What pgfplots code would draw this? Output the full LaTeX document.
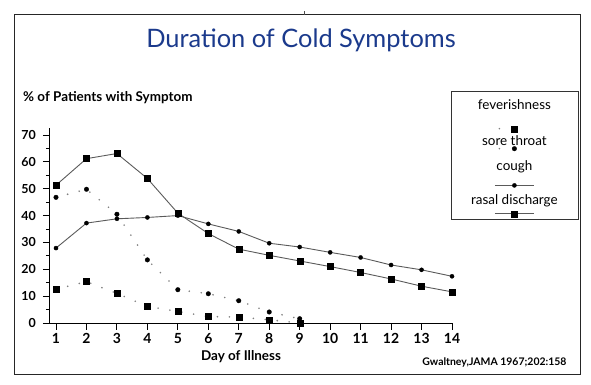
\documentclass[border=0pt]{standalone}
\usepackage{fontspec}
\setmainfont{Lato}
\usepackage{pgfplots}
\pgfplotsset{compat=1.18}
\definecolor{titleblue}{HTML}{1B3A8C}
\definecolor{linegray}{HTML}{5A5A5A}
\definecolor{dotgray}{HTML}{808080}
\newcommand{\legfont}{\fontsize{13.5}{16}\selectfont}
\tikzset{
  dotline/.style={dotgray, line width=1.8bp, line cap=round},
  solline/.style={linegray, line width=0.9bp},
  sqmark/.style={mark=square*, mark size=3bp, mark options={solid, draw=black, fill=black, line width=0.3bp}},
  cimark/.style={mark=*, mark size=2.3bp, mark options={solid, draw=black, fill=black, line width=0.3bp}},
  cimarks/.style={mark=*, mark size=2.1bp, mark options={solid, draw=black, fill=black, line width=0.3bp}},
}
\begin{document}
\begin{tikzpicture}[x=1bp,y=1bp]
\path (0,0) rectangle (591,384);
\draw[line width=1bp, black!85] (14,10) rectangle (580,369);
\draw[line width=0.8bp, black!70] (304,369) -- (304,373);
\node[font=\fontsize{25.5}{29}\selectfont, text=titleblue, anchor=base, inner sep=0pt] at (301,337) {Duration of Cold Symptoms};
\node[font=\bfseries\fontsize{13.5}{15}\selectfont, anchor=base west, inner sep=0pt] at (23,282.3) {\% of Patients with Symptom};
\node[font=\bfseries\fontsize{13.5}{16}\selectfont, anchor=base, inner sep=0pt] at (241,24) {Day of Illness};
\node[font=\bfseries\fontsize{10.5}{12}\selectfont, anchor=base east, inner sep=0pt] at (566.7,19) {Gwaltney,JAMA 1967;202:158};
\begin{axis}[
  scale only axis, width=402.7bp, height=194.7bp,
  at={(49.3bp,61bp)}, anchor=south west,
  xmin=0.78, xmax=14, ymin=0, ymax=72.5,
  axis lines=left, axis line style={-, line width=1bp, black},
  xtick={1,...,14}, ytick={0,10,...,70}, minor ytick={5,15,...,65},
  tick align=outside, major tick length=6.5bp, minor tick length=3.5bp,
  tick style={black, line width=1bp},
  /pgf/number format/assume math mode=true,
  xticklabel={\textbf{\pgfmathprintnumber{\tick}}},
  yticklabel={\textbf{\pgfmathprintnumber{\tick}}},
  yticklabel style={font=\fontsize{12.5}{14}\selectfont, xshift=-3.5bp},
  xticklabel style={font=\fontsize{14}{16}\selectfont},
  clip=false,
  legend style={at={(axis description cs:0.9975,1.1916)}, anchor=north west,
    draw=black!80, line width=0.8bp, inner sep=0pt, column sep=0pt, row sep=0pt,
    nodes={inner sep=0pt, text depth=0pt}, cells={anchor=center}, fill=white},
]
\addplot[dotline, dash pattern=on 0pt off 12bp, sqmark,
  legend image code/.code={
    \path[draw=none, fill=none] (-63bp,-4.7bp) rectangle (63bp,37.3bp);
    \node[text=black, font=\legfont, inner sep=0pt, anchor=base, draw=none] at (0bp,19.3bp) {feverishness};
    \draw[dotline, dash pattern=on 0pt off 15bp] (-15bp,0bp) -- (15bp,0bp);
    \draw[sqmark] plot coordinates {(0bp,0bp)};
  }]
coordinates {(1,12.6) (2,15.4) (3,11.0) (4,6.2) (5,4.3) (6,2.4) (7,2.2) (8,1.2) (9,0)};
\addlegendentry{}
\addplot[dotline, dash pattern=on 0pt off 12bp, cimark,
  legend image code/.code={
    \path[draw=none, fill=none] (-63bp,-6.7bp) rectangle (63bp,15.3bp);
    \node[text=black, font=\legfont, inner sep=0pt, anchor=base, draw=none] at (0bp,3.3bp) {sore throat};
    \draw[dotline, dash pattern=on 0pt off 15bp] (-15bp,0bp) -- (15bp,0bp);
    \draw[cimark] plot coordinates {(0bp,0bp)};
  }]
coordinates {(1,46.8) (2,49.8) (3,40.5) (4,23.5) (5,12.4) (6,10.9) (7,8.3) (8,4.1) (9,1.6)};
\addlegendentry{}
\addplot[solline, cimarks,
  legend image code/.code={
    \path[draw=none, fill=none] (-63bp,-6bp) rectangle (63bp,30bp);
    \node[text=black, font=\legfont, inner sep=0pt, anchor=base, draw=none] at (0bp,15bp) {cough};
    \draw[solline] (-19.5bp,0bp) -- (19.5bp,0bp);
    \draw[cimarks] plot coordinates {(0bp,0bp)};
  }]
coordinates {(1,27.9) (2,37.2) (3,38.8) (4,39.3) (5,40.0) (6,36.9) (7,34.1) (8,29.7) (9,28.3) (10,26.3) (11,24.4) (12,21.6) (13,19.8) (14,17.4)};
\addlegendentry{}
\addplot[solline, sqmark,
  legend image code/.code={
    \path[draw=none, fill=none] (-63bp,-5.7bp) rectangle (63bp,22.3bp);
    \node[text=black, font=\legfont, inner sep=0pt, anchor=base, draw=none] at (0bp,9.3bp) {rasal discharge};
    \draw[solline] (-19.5bp,0bp) -- (19.5bp,0bp);
    \draw[sqmark] plot coordinates {(0bp,0bp)};
  }]
coordinates {(1,51.3) (2,61.2) (3,63.1) (4,53.8) (5,40.9) (6,33.3) (7,27.5) (8,25.2) (9,23.1) (10,21.0) (11,18.8) (12,16.4) (13,13.7) (14,11.6)};
\addlegendentry{}
\end{axis}
\end{tikzpicture}
\end{document}
